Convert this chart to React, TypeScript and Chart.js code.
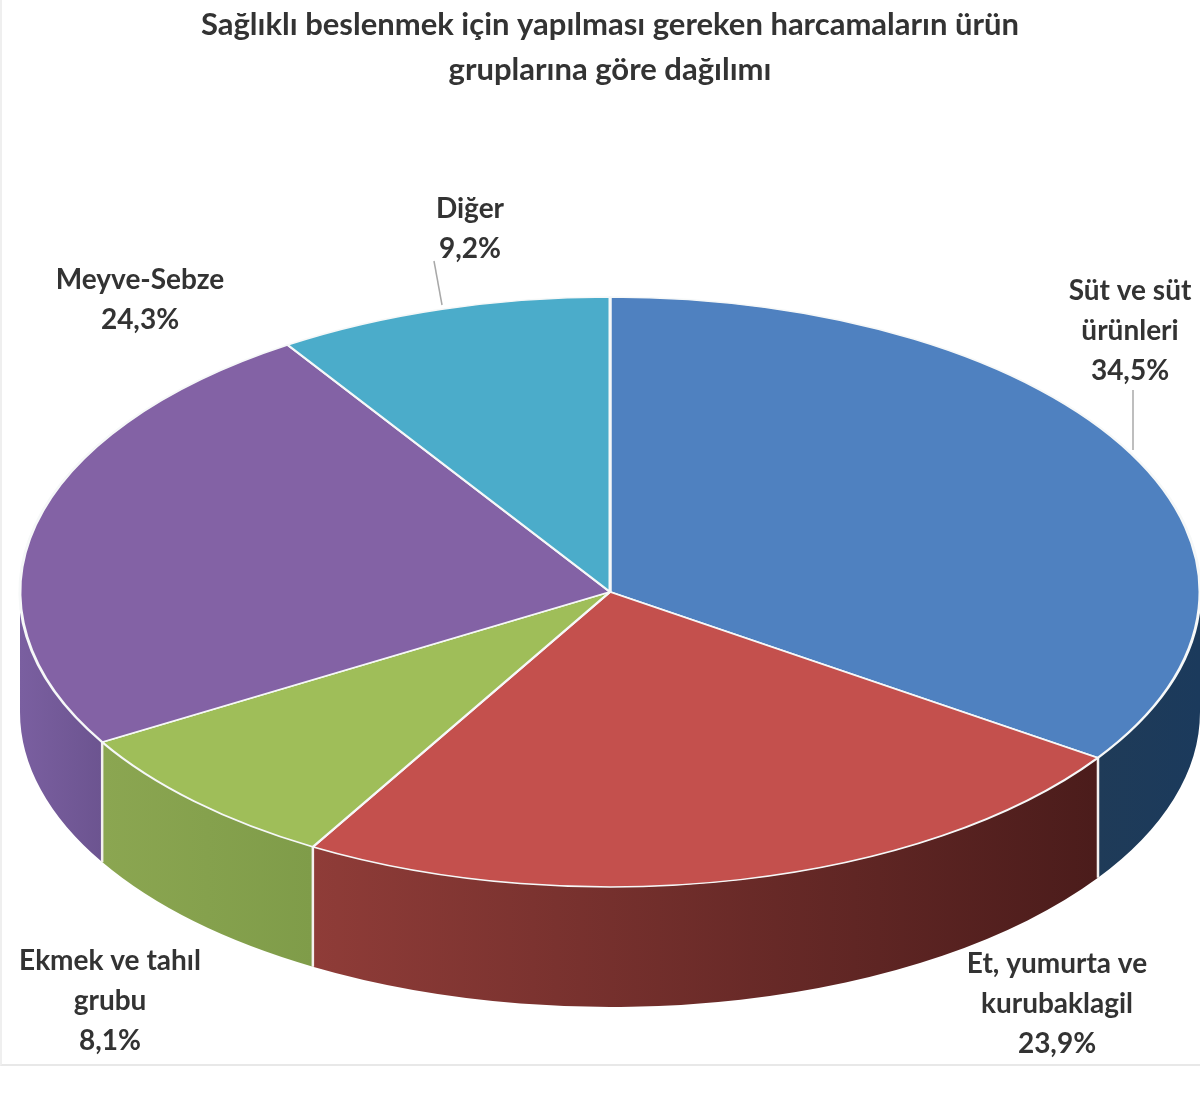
import { useEffect, useRef } from 'react'
import { Chart, registerables } from 'chart.js'

Chart.register(...registerables)

const titleLines = [
  'Sağlıklı beslenmek için yapılması gereken harcamaların ürün',
  'gruplarına göre dağılımı',
]
const categories = ['Süt ve süt ürünleri', 'Et, yumurta ve kurubaklagil', 'Ekmek ve tahıl grubu', 'Meyve-Sebze', 'Diğer']
const shares = [34.5, 23.9, 8.1, 24.3, 9.2]
const wrappedNames = [
  ['Süt ve süt', 'ürünleri'],
  ['Et, yumurta ve', 'kurubaklagil'],
  ['Ekmek ve tahıl', 'grubu'],
  ['Meyve-Sebze'],
  ['Diğer'],
]

const topColors = ['#4f81c0', '#c4504d', '#9fbe59', '#8362a5', '#4bacca']
// side wall colours, from the start angle of the slice to its end angle
const wallColors = [
  ['#1b3a5c', '#1f3b58'],
  ['#4b1c1b', '#8f3c38'],
  ['#7f9c49', '#8ba651'],
  ['#6c5490', '#7a5fa0'],
  ['#2f7f95', '#2f7f95'],
]

const TILT = 0.5
const DEPTH = 120
const FONT = '"Lato", "Open Sans", sans-serif'

// label centres on the canvas, first line
const labelAnchors = [
  { x: 1130, y: 291 },
  { x: 1057, y: 964 },
  { x: 110, y: 961 },
  { x: 140, y: 280 },
  { x: 470, y: 209 },
]
const leaderLines = [
  { x1: 1133, y1: 390, x2: 1133, y2: 450 },
  { x1: 434, y1: 261, x2: 442, y2: 305 },
]

const pie3d = {
  id: 'pie3d',
  beforeDatasetsDraw(chart: Chart) {
    const ctx = chart.ctx
    const arcs = chart.getDatasetMeta(0).data as any[]
    const { x: cx, y: cy, outerRadius: rx } = arcs[0]
    const ry = rx * TILT

    // walls of the slices that face the viewer
    arcs.forEach((arc, i) => {
      const a = Math.max(arc.startAngle, 0)
      const b = Math.min(arc.endAngle, Math.PI)
      if (b <= a) return
      const xa = cx + rx * Math.cos(a)
      const xb = cx + rx * Math.cos(b)
      const grad = ctx.createLinearGradient(xa, 0, xb, 0)
      grad.addColorStop(0, wallColors[i][0])
      grad.addColorStop(1, wallColors[i][1])
      ctx.beginPath()
      ctx.ellipse(cx, cy, rx, ry, 0, a, b)
      ctx.ellipse(cx, cy + DEPTH, rx, ry, 0, b, a, true)
      ctx.closePath()
      ctx.fillStyle = grad
      ctx.fill()
    })

    // white seams between the walls
    ctx.strokeStyle = '#f4f0ee'
    ctx.lineWidth = 2.5
    arcs.forEach((arc) => {
      const t = arc.endAngle
      if (t <= 0 || t >= Math.PI) return
      const x = cx + rx * Math.cos(t)
      const y = cy + ry * Math.sin(t)
      ctx.beginPath()
      ctx.moveTo(x, y)
      ctx.lineTo(x, y + DEPTH)
      ctx.stroke()
    })

    // flatten the pie itself
    ctx.save()
    ctx.translate(cx, cy)
    ctx.scale(1, TILT)
    ctx.translate(-cx, -cy)
  },
  afterDatasetsDraw(chart: Chart) {
    const ctx = chart.ctx
    ctx.restore()

    ctx.strokeStyle = '#a8a8a8'
    ctx.lineWidth = 1.5
    leaderLines.forEach((l) => {
      ctx.beginPath()
      ctx.moveTo(l.x1, l.y1)
      ctx.lineTo(l.x2, l.y2)
      ctx.stroke()
    })

    ctx.font = `bold 28px ${FONT}`
    ctx.fillStyle = '#333333'
    ctx.textAlign = 'center'
    ctx.textBaseline = 'middle'
    categories.forEach((_, i) => {
      const percent = shares[i].toFixed(1).replace('.', ',') + '%'
      const lines = [...wrappedNames[i], percent]
      lines.forEach((line, j) => {
        ctx.fillText(line, labelAnchors[i].x, labelAnchors[i].y + j * 40)
      })
    })
  },
}

export default function App() {
  const canvasRef = useRef<HTMLCanvasElement>(null)

  useEffect(() => {
    document.body.style.margin = '0'
    if (!canvasRef.current) return
    const chart = new Chart(canvasRef.current, {
      type: 'pie',
      data: {
        labels: categories,
        datasets: [
          {
            data: shares,
            backgroundColor: topColors,
            borderColor: '#f6f8f8',
            borderWidth: 3,
            radius: 590,
          } as any,
        ],
      },
      options: {
        animation: false,
        responsive: false,
        devicePixelRatio: 1,
        layout: { padding: { left: 20, top: 0, right: 0, bottom: 7 } },
        plugins: {
          legend: { display: false },
          tooltip: { enabled: false },
          title: {
            display: true,
            text: titleLines,
            color: '#333333',
            font: { family: FONT, size: 31, weight: 'bold', lineHeight: 1.45 },
            padding: { top: 3, bottom: 2 },
          },
        },
      },
      plugins: [pie3d],
    })
    return () => chart.destroy()
  }, [])

  return (
    <div style={{ position: 'absolute', left: 0, top: 0, width: 1200, height: 1096, background: '#fff', overflow: 'hidden' }}>
      <div style={{ position: 'absolute', left: 0, top: 0, width: 1200, height: 1066, boxSizing: 'border-box', borderLeft: '2px solid #efefef', borderBottom: '2px solid #e8e8e8' }} />
      <canvas ref={canvasRef} width={1200} height={1096} style={{ position: 'absolute', left: 0, top: 0 }} />
    </div>
  )
}
